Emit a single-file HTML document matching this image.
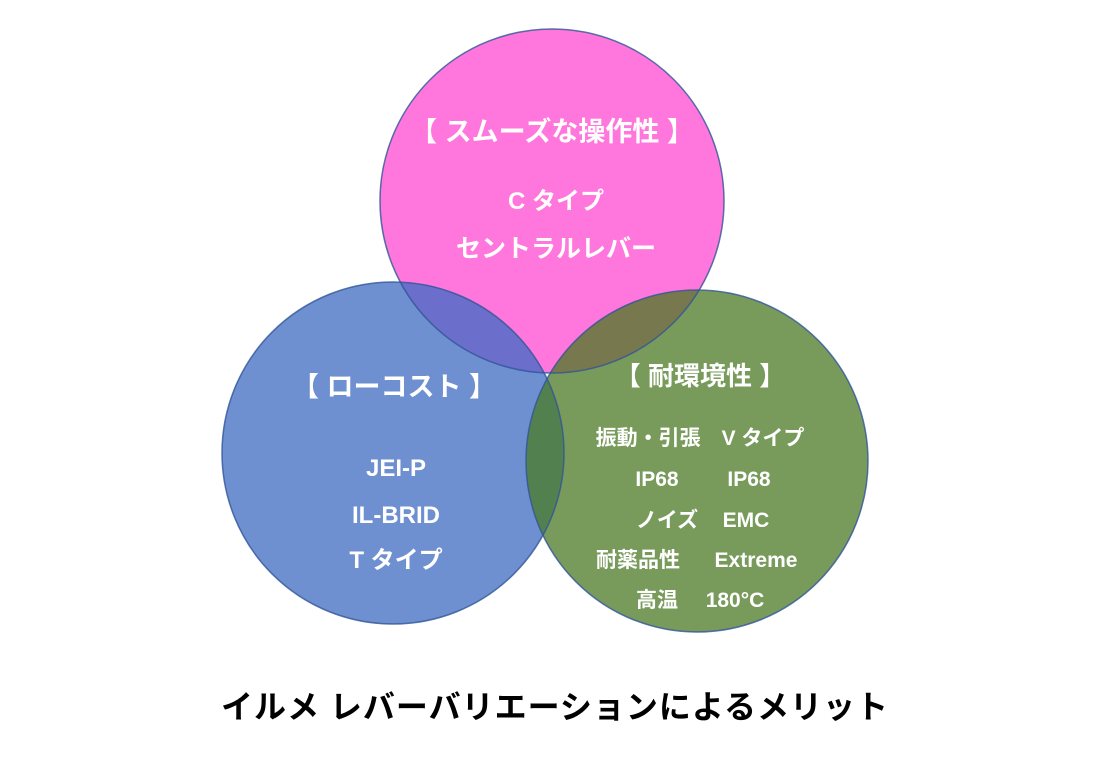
<!DOCTYPE html>
<html><head><meta charset="utf-8"><style>
body{margin:0;background:#fff;}
svg{display:block}
text{font-family:"Liberation Sans","Noto Sans CJK JP",sans-serif;font-weight:bold;fill:#fff;text-anchor:middle}
</style></head><body>
<svg width="1114" height="776" viewBox="0 0 1114 776">
<defs>
<clipPath id="cp"><circle cx="552" cy="201" r="172"/></clipPath>
<clipPath id="cb"><circle cx="393" cy="453" r="171"/></clipPath>
</defs>
<circle cx="552" cy="201" r="172" fill="#FF77DD"/>
<circle cx="393" cy="453" r="171" fill="#6E8FD0"/>
<circle cx="697" cy="461" r="171" fill="#789B5C"/>
<circle cx="393" cy="453" r="171" fill="#6B6ECB" clip-path="url(#cp)"/>
<circle cx="697" cy="461" r="171" fill="#78784F" clip-path="url(#cp)"/>
<circle cx="697" cy="461" r="171" fill="#53804F" clip-path="url(#cb)"/>
<g fill="none" stroke="#2F5597" stroke-width="1.5" stroke-opacity="0.8">
<circle cx="552" cy="201" r="172"/>
<circle cx="393" cy="453" r="171"/>
<circle cx="697" cy="461" r="171"/>
</g>
<text x="552" y="141" font-size="27">【 スムーズな操作性 】</text>
<text x="556" y="209" font-size="24">C タイプ</text>
<text x="556" y="257" font-size="25">セントラルレバー</text>
<text x="394" y="396" font-size="27">【 ローコスト 】</text>
<text x="396" y="476" font-size="24">JEI-P</text>
<text x="396" y="523" font-size="24">IL-BRID</text>
<text x="396" y="568" font-size="24">T タイプ</text>
<text x="700" y="385" font-size="26">【 耐環境性 】</text>
<text x="700" y="445" font-size="21">振動・引張　V タイプ</text>
<text x="657" y="486" font-size="21">IP68</text>
<text x="749" y="486" font-size="21">IP68</text>
<text x="667" y="527" font-size="21">ノイズ</text>
<text x="746" y="527" font-size="21">EMC</text>
<text x="638" y="567" font-size="21">耐薬品性</text>
<text x="756" y="567" font-size="21">Extreme</text>
<text x="657" y="607" font-size="21">高温</text>
<text x="735" y="607" font-size="21">180°C</text>
<text x="555" y="718" font-size="32" letter-spacing="1" style="fill:#000">イルメ  レバーバリエーションによるメリット</text>
</svg>
</body></html>
